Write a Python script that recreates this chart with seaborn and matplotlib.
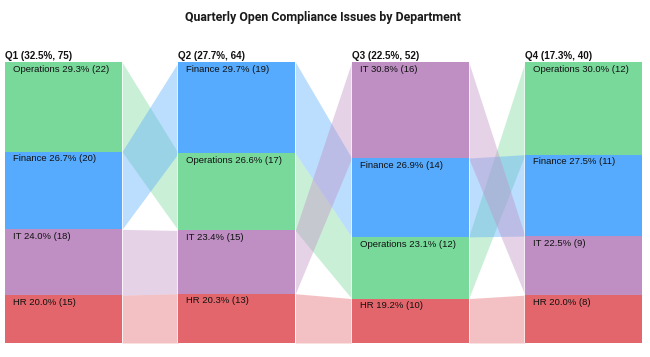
import matplotlib
matplotlib.use("Agg")
import matplotlib.pyplot as plt
import seaborn as sns
import numpy as np

# ---- data ----
quarters = ["Q1", "Q2", "Q3", "Q4"]
departments = ["Operations", "Finance", "IT", "HR"]
operations = [22, 17, 12, 12]
finance = [20, 19, 14, 11]
it_dept = [18, 15, 16, 9]
hr = [15, 13, 10, 8]
dept_colors = ["#78D99B", "#56ABFE", "#BF8FC4", "#E2666B"]
title = "Quarterly Open Compliance Issues by Department"

sns.set_theme(style="white")
plt.rcParams["font.family"] = ["Liberation Sans", "DejaVu Sans"]

counts = np.array([operations, finance, it_dept, hr])  # dept x quarter
q_totals = counts.sum(axis=0)
grand = q_totals.sum()
pal = dict(zip(departments, sns.color_palette(dept_colors)))

# height scale with baseline offset (as in the reference rendering)
P0 = 9.3
def seg_height(pct):
    return (pct - P0) / (100 - 4 * P0)

W = 0.675
fig = plt.figure(figsize=(6.5, 3.57), dpi=100)
ax = fig.add_axes([5 / 650, 14 / 357, 637 / 650, 281 / 357])
ax.set_xlim(-W / 2, 3 + W / 2)
ax.set_ylim(1, 0)
ax.axis("off")

# compute stacked positions per quarter (sorted descending)
pos = {}
for qi, q in enumerate(quarters):
    col = counts[:, qi]
    order = np.argsort(-col, kind="stable")
    y = 0.0
    for di in order:
        pct = 100 * col[di] / q_totals[qi]
        h = seg_height(pct)
        pos[(di, qi)] = (y, y + h, pct, col[di])
        y += h

# ribbons
for qi in range(len(quarters) - 1):
    for di, d in enumerate(departments):
        t0, b0, _, _ = pos[(di, qi)]
        t1, b1, _, _ = pos[(di, qi + 1)]
        ax.fill_between([qi + W / 2, qi + 1 - W / 2], [t0, t1], [b0, b1],
                        color=pal[d], alpha=0.4, lw=0, zorder=1)

# light edges on column sides
for qi in range(len(quarters)):
    ax.vlines([qi - W / 2, qi + W / 2], 0, 1, color="white", lw=1.2, alpha=0.7, zorder=2)

# bars + labels
for qi, q in enumerate(quarters):
    for di, d in enumerate(departments):
        t, b, pct, n = pos[(di, qi)]
        ax.bar(qi, b - t, bottom=t, width=W, color=pal[d], lw=0, zorder=3)
        ax.annotate(f"{d} {pct:.1f}% ({n})", xy=(qi - W / 2, t),
                    xytext=(5.8, -5.2), textcoords="offset points",
                    ha="left", va="center", fontsize=6.8, color="#111111", zorder=5)
    ax.annotate(f"{q} ({100 * q_totals[qi] / grand:.1f}%, {q_totals[qi]})",
                xy=(qi - W / 2, 0), xytext=(0, 1.0), textcoords="offset points",
                ha="left", va="bottom", fontsize=7.1, fontweight="bold",
                color="#111111", annotation_clip=False, zorder=5)

fig.text(0.497, 1 - 18 / 357, title, ha="center", va="center",
         fontsize=8.9, fontweight="bold", family=["Roboto", "DejaVu Sans"], color="#1a1a1a")

fig.savefig("out.png", dpi=100)
